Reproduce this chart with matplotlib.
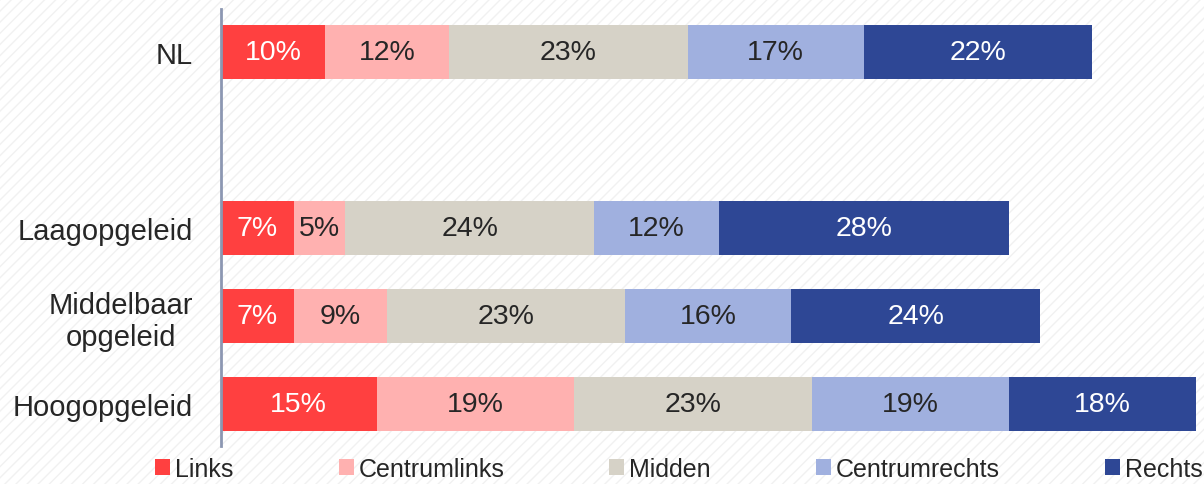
import numpy as np
from matplotlib import pyplot as plt
from matplotlib.patches import Rectangle

# data
groepen = ['NL', 'Laagopgeleid', 'Middelbaar\nopgeleid', 'Hoogopgeleid']
series = ['Links', 'Centrumlinks', 'Midden', 'Centrumrechts', 'Rechts']
links = [10, 7, 7, 15]
centrumlinks = [12, 5, 9, 19]
midden = [23, 24, 23, 23]
centrumrechts = [17, 12, 16, 19]
rechts = [22, 28, 24, 18]

kleuren = ['#FF4040', '#FFB1B0', '#D6D2C7', '#A0B0DF', '#2E4795']
tekstkleur = ['white', '#262626', '#262626', '#262626', 'white']

plt.rcParams['font.family'] = ['Liberation Sans', 'DejaVu Sans']

fig = plt.figure(figsize=(12.04, 4.85), dpi=100)
fig.patch.set_facecolor('white')
# lichte diagonale arcering op de achtergrond
fig.patches.append(Rectangle((0, 0), 1, 1, transform=fig.transFigure,
                             facecolor='white', edgecolor='#F1F1F1',
                             hatch='///', lw=0, zorder=-10))

ax = fig.add_axes([221 / 1204, 1 - 447 / 485, 1 - 221 / 1204, 437 / 485])
ax.set_facecolor('none')

# NL staat los, met een lege rij ertussen
y_pos = np.array([0, 2, 3, 4])
waarden = [links, centrumlinks, midden, centrumrechts, rechts]

left = np.zeros(len(groepen))
for naam, vals, kleur, tk in zip(series, waarden, kleuren, tekstkleur):
    vals = np.array(vals, dtype=float)
    bars = ax.barh(y_pos, vals, left=left, height=0.614, color=kleur,
                   label=naam, linewidth=0)
    ax.bar_label(bars, labels=['%d%%' % v for v in vals], label_type='center',
                 color=tk, fontsize=20.5)
    left += vals

ax.set_xlim(0, 94.8)
ax.set_ylim(4.48, -0.49)
ax.set_yticks(y_pos)
ax.set_yticklabels(groepen, fontsize=21, color='#262626')
for lbl in ax.get_yticklabels():
    lbl.set_multialignment('center')
ax.tick_params(axis='y', length=0, pad=20)
ax.set_xticks([])

for s in ['top', 'right', 'bottom']:
    ax.spines[s].set_visible(False)
ax.spines['left'].set_color('#8C97B2')
ax.spines['left'].set_linewidth(2)

fig.legend(loc='center', bbox_to_anchor=(679 / 1204, 1 - 470 / 485),
           ncol=5, frameon=False, fontsize=18, handlelength=0.6,
           handleheight=0.6, handletextpad=0.2, columnspacing=4.2,
           borderpad=0, labelcolor='#262626')

fig.savefig('out.png', dpi=100)
